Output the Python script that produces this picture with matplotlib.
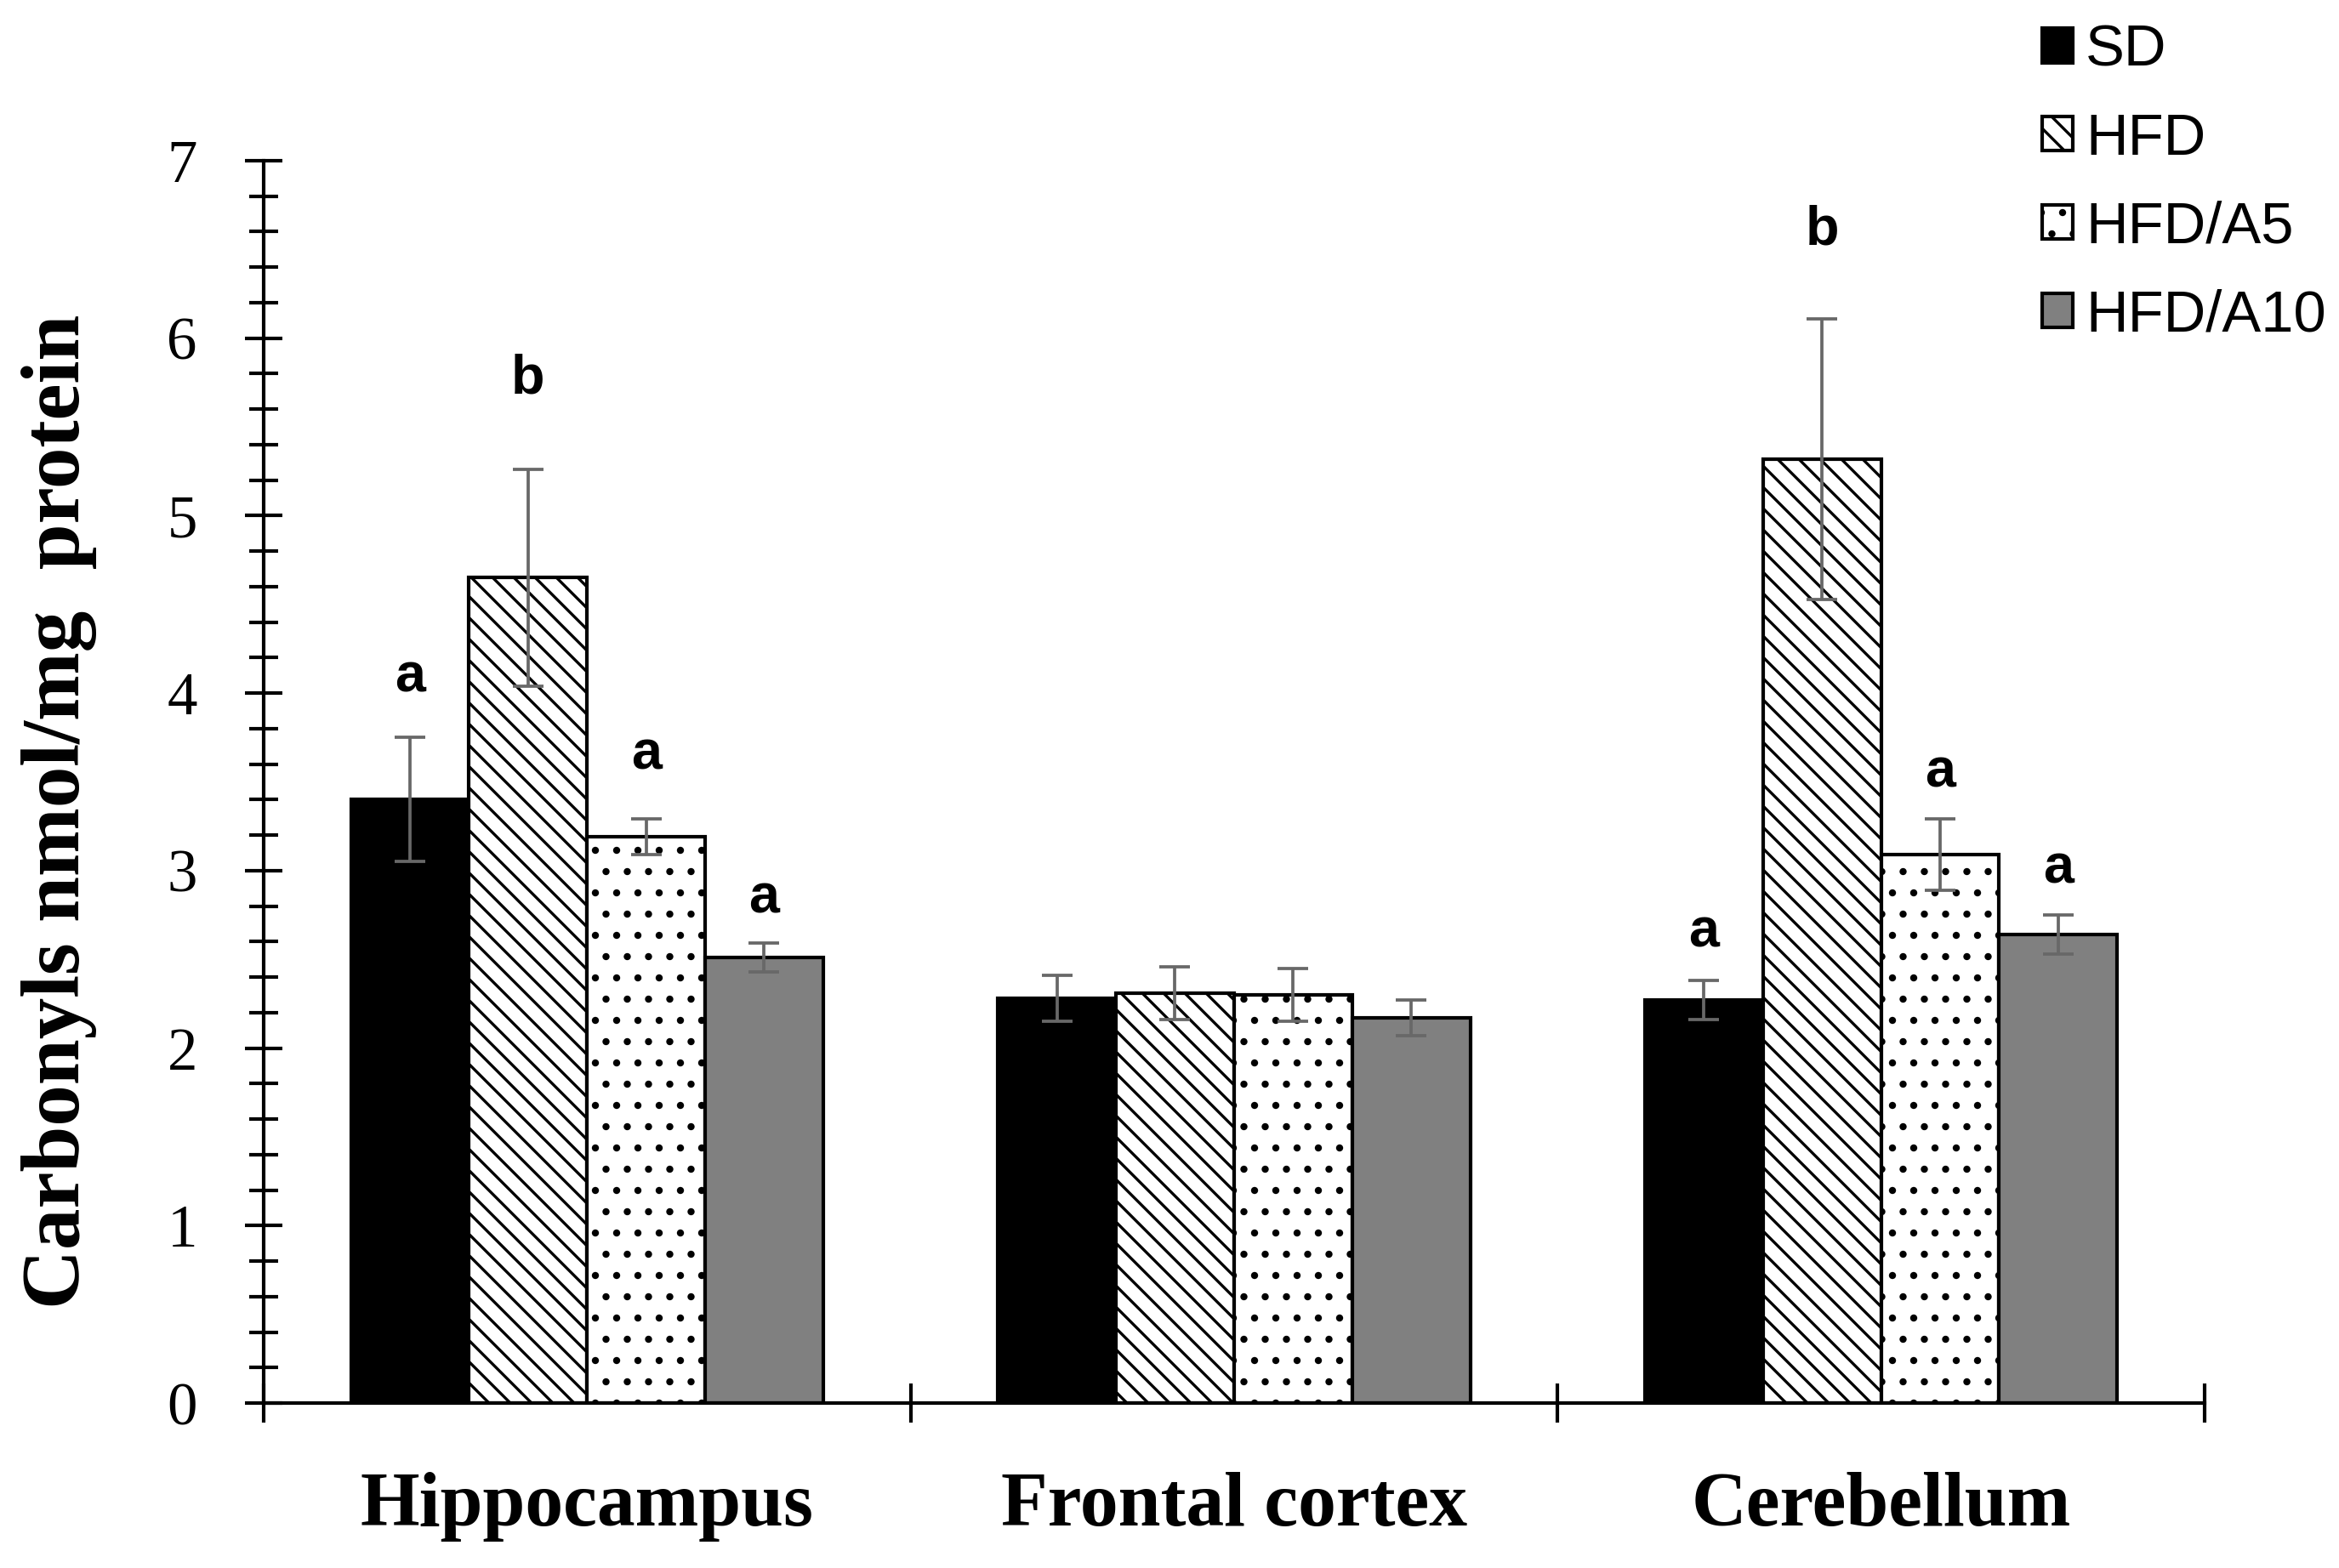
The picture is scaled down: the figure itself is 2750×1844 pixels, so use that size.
import matplotlib.pyplot as plt
import numpy as np

# data
regions = ['Hippocampus', 'Frontal cortex', 'Cerebellum']
groups = ['SD', 'HFD', 'HFD/A5', 'HFD/A10']

sd_mean = [3.40, 2.28, 2.27]
hfd_mean = [4.65, 2.31, 5.32]
a5_mean = [3.19, 2.30, 3.09]
a10_mean = [2.51, 2.17, 2.64]

sd_err = [0.35, 0.13, 0.11]
hfd_err = [0.61, 0.15, 0.79]
a5_err = [0.10, 0.15, 0.20]
a10_err = [0.08, 0.10, 0.11]

# significance letters (None = no letter) and the height they sit at
sd_sig = ['a', None, 'a']
hfd_sig = ['b', None, 'b']
a5_sig = ['a', None, 'a']
a10_sig = ['a', None, 'a']
sd_sig_y = [4.01, None, 2.57]
hfd_sig_y = [5.69, None, 6.53]
a5_sig_y = [3.57, None, 3.47]
a10_sig_y = [2.76, None, 2.93]

means = [sd_mean, hfd_mean, a5_mean, a10_mean]
errs = [sd_err, hfd_err, a5_err, a10_err]
sigs = [sd_sig, hfd_sig, a5_sig, a10_sig]
sig_ys = [sd_sig_y, hfd_sig_y, a5_sig_y, a10_sig_y]

colors = ['black', 'white', 'white', '#808080']
hatches = [None, '\\\\', '.', None]

# hatch spacing follows the dpi: at 150 dpi both patterns come out ~25 px
DPI = 150

plt.rcParams['hatch.linewidth'] = 1.6
plt.rcParams['hatch.color'] = 'black'

fig = plt.figure(figsize=(2750 / DPI, 1844 / DPI), dpi=DPI)
ax = fig.add_axes([0.1127, 0.1052, 0.8298, 0.7923])

x = np.arange(len(regions))
w = 0.1825
for i in range(len(groups)):
    pos = x + (i - 1.5) * w
    ax.bar(pos, means[i], w, color=colors[i], edgecolor='black',
           linewidth=2, hatch=hatches[i], label=groups[i], zorder=2)
    ax.errorbar(pos, means[i], yerr=errs[i], fmt='none', ecolor='#686868',
                elinewidth=1.8, capsize=8.5, capthick=1.8, zorder=3)
    for j in range(len(regions)):
        if sigs[i][j]:
            ax.text(pos[j], sig_ys[i][j], sigs[i][j], ha='center',
                    va='baseline', fontsize=31, fontweight='bold',
                    family='Liberation Sans')

ax.set_xlim(-0.5, 2.5)
ax.set_ylim(0, 7)

for s in ['top', 'right']:
    ax.spines[s].set_visible(False)
for s in ['left', 'bottom']:
    ax.spines[s].set_linewidth(2)

ax.set_yticks(np.arange(0, 8, 1))
ax.set_yticks(np.arange(0, 7.01, 0.2), minor=True)
ax.tick_params(axis='y', which='major', direction='inout', length=21,
               width=2, pad=27, labelsize=34)
ax.tick_params(axis='y', which='minor', direction='inout', length=16,
               width=2)
for t in ax.get_yticklabels():
    t.set_family('Liberation Serif')

ax.set_xticks(x)
ax.set_xticklabels(regions, fontsize=43, fontweight='bold',
                   family='Liberation Serif')
ax.set_xticks([-0.5, 0.5, 1.5, 2.5], minor=True)
ax.tick_params(axis='x', which='major', length=0, pad=39)
ax.tick_params(axis='x', which='minor', direction='inout', length=22,
               width=2)

ax.set_ylabel('Carbonyls nmol/mg  protein', fontsize=46.5,
              fontweight='bold', family='Liberation Serif')
ax.yaxis.set_label_coords(-0.086, 0.476)

fig.legend(loc='upper left', bbox_to_anchor=(0.873, 0.985), frameon=False,
           prop={'family': 'Liberation Sans', 'size': 33},
           handlelength=0.53, handleheight=0.53, handletextpad=0.22,
           labelspacing=0.58, borderpad=0, borderaxespad=0)

fig.savefig('out.png', dpi=DPI)
plt.close(fig)
